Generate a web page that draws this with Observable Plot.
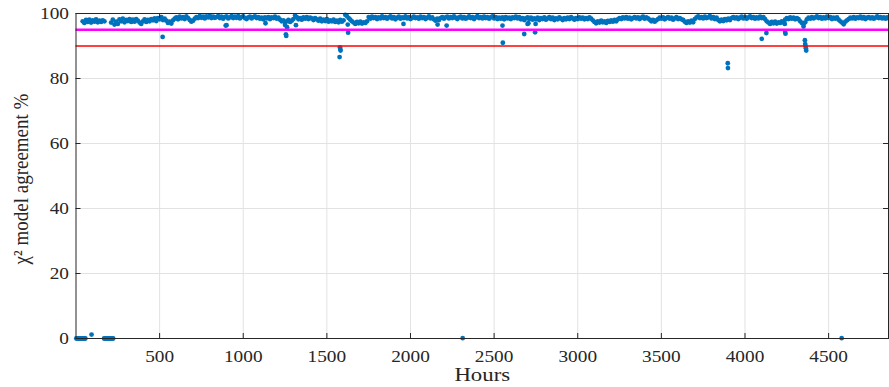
<!DOCTYPE html>
<html>
<head>
<meta charset="utf-8">
<script src="https://cdn.jsdelivr.net/npm/d3@7"></script>
<script src="https://cdn.jsdelivr.net/npm/@observablehq/plot@0.6"></script>
<style>
  html, body { margin: 0; padding: 0; background: #fff; }
  #chart svg { display: block; overflow: visible; }
</style>
</head>
<body>
<div id="chart"></div>
<script>
// Tick positions and threshold levels
const xTicks = [500, 1000, 1500, 2000, 2500, 3000, 3500, 4000, 4500];
const yTicks = [0, 20, 40, 60, 80, 100];
const yGrid = [20, 40, 60, 80];
const thresholdLevels = [95, 90];
const thresholdColors = ["#ff00ff", "#ff0000"];
const thresholdWidths = [2.6, 1.4];

// Regularly sampled agreement (%), one reading every 10 hours from hour 40
const bandStartHour = 40;
const bandStepHours = 10;
const bandAgreement = [
  97.6, 97.1, 98.0, 97.4, 98.1, 97.2, 97.9, 97.5, 98.2, 97.3,
  97.8, 97.4, 97.9, 97.6, null, null, null, 97.2, 98.1, 96.6,
  97.5, 96.8, 98.2, 97.6, 98.4, 97.3, 98.0, 97.7, 98.3, 97.4,
  98.1, 97.5, 98.3, 97.8, 97.2, 96.8, 97.6, 98.2, 97.4, 98.0,
  97.6, 98.3, 97.9, 98.5, 97.7, 98.6, 98.2, 98.9, 98.0, 98.4,
  97.8, 97.1, 97.5, 96.9, 97.9, 98.4, 98.8, 98.2, 99.0, 98.5,
  98.9, 98.3, 99.1, 98.6, 98.0, 97.5, 97.8, 98.4, 98.9, 98.6,
  99.2, 98.7, 99.0, 98.5, 99.1, 98.8, 99.3, 98.6, 99.0, 98.7,
  98.9, 99.2, 98.6, 99.0, 98.4, 98.9, 99.1, 98.5, 98.8, 99.2,
  98.6, 99.0, 98.7, 99.2, 98.5, 98.9, 99.1, 98.6, 98.3, 98.8,
  99.0, 98.5, 98.9, 99.1, 98.6, 98.9, 98.4, 98.7, 98.2, 98.8,
  98.5, 98.9, 98.3, 98.8, 98.6, 99.0, 98.4, 98.7, 98.1, 97.6,
  97.9, 97.2, 97.6, 98.0, 97.4, 97.8, 98.3, 99.4, 98.9, 98.2,
  98.6, 98.1, 98.8, 98.4, 98.9, 98.3, 98.7, 98.5, 98.0, 98.6,
  98.2, 97.8, 98.4, 97.6, 98.1, 97.7, 98.3, 97.5, 97.9, 97.6,
  98.1, 97.4, 97.8, 97.3, 98.0, 97.5, 97.9, 99.6, 99.2, 98.6,
  98.1, 97.6, 97.2, 96.8, 97.4, 97.0, 97.5, 96.9, 97.3, 97.1,
  97.6, 98.9, 98.4, 99.0, 98.6, 98.9, 98.3, 98.8, 98.5, 99.1,
  98.6, 98.9, 98.4, 98.8, 99.1, 98.5, 98.9, 98.2, 98.7, 99.0,
  98.4, 98.8, 98.6, 99.1, 98.5, 98.9, 98.3, 98.7, 99.0, 98.6,
  98.8, 98.4, 99.0, 98.6, 98.9, 98.3, 98.7, 99.1, 98.5, 98.8,
  98.2, 97.8, 98.4, 98.0, 98.6, 98.9, 98.4, 98.8, 99.0, 98.5,
  98.9, 98.6, 99.1, 98.7, 98.3, 98.8, 99.0, 98.5, 98.9, 98.4,
  98.7, 99.1, 98.6, 98.9, 98.3, 98.8, 99.2, 98.6, 98.9, 98.5,
  99.0, 98.6, 98.9, 98.4, 98.8, 99.1, 98.5, 98.9, 98.3, 98.7,
  98.4, 98.8, 98.2, 98.9, 98.5, 98.7, 98.3, 98.8, 98.6, 99.0,
  98.5, 98.9, 98.2, 98.6, 98.0, 98.5, 98.8, 98.3, 98.7, 98.1,
  98.5, 98.2, 98.7, 98.0, 98.6, 98.3, 98.8, 98.1, 98.5, 98.9,
  98.3, 98.7, 98.0, 98.5, 98.2, 98.8, 98.4, 98.0, 98.6, 98.2,
  98.7, 98.3, 98.9, 98.5, 98.1, 98.6, 98.3, 98.8, 98.4, 98.7,
  98.2, 98.6, 98.3, 98.8, 98.4, 97.9, 97.4, 97.0, 97.6, 97.2,
  97.8, 97.3, 97.6, 97.1, 97.7, 97.4, 97.9, 97.5, 98.0, 97.6,
  98.2, 98.6, 98.3, 98.8, 98.5, 98.9, 98.4, 98.7, 98.2, 98.6,
  98.9, 98.5, 98.8, 98.3, 98.7, 99.0, 98.4, 98.8, 98.5, 98.1,
  97.6, 98.0, 97.5, 97.9, 98.3, 98.7, 98.4, 98.8, 98.2, 98.6,
  98.9, 98.4, 98.7, 98.1, 98.5, 98.9, 98.3, 98.6, 98.2, 98.0,
  97.5, 97.1, 97.6, 97.2, 97.8, 97.3, 98.3, 98.8, 99.1, 98.6,
  98.9, 98.5, 99.0, 98.6, 98.8, 99.2, 98.5, 98.9, 98.3, 98.7,
  98.0, 97.6, 98.1, 97.7, 98.3, 97.9, 98.4, 98.0, 98.6, 98.9,
  98.5, 98.8, 98.3, 98.7, 99.0, 98.5, 98.9, 98.4, 98.8, 99.1,
  98.6, 98.9, 98.4, 98.8, 98.5, 99.0, 98.6, 98.9, 98.3, 97.6,
  97.2, 96.8, 97.4, 97.0, 97.5, 96.9, 97.3, 97.1, 97.6, 97.2,
  98.1, 98.6, 98.3, 98.8, 98.4, 98.7, 98.2, 98.6, 98.3, 97.6,
  97.1, 96.8, 97.3, 98.2, 98.7, 98.4, 98.9, 98.5, 98.8, 99.1,
  98.6, 98.9, 98.4, 98.8, 98.5, 99.0, 98.6, 98.9, 98.3, 98.7,
  98.4, 98.8, 98.1, 97.6, 97.2, 96.7, 97.5, 97.9, 98.3, 98.7,
  98.5, 98.9, 98.4, 98.8, 98.6, 99.0, 98.5, 98.9, 98.3, 98.7,
  98.9, 98.5, 98.8, 98.4, 98.7, 99.1, 98.6, 98.9, 98.5, 98.8,
  98.4, 98.8, 98.5
];

// Isolated readings below the main band
const outlierHours = [
  518, 895, 900, 1133, 1250, 1255, 1257, 1262, 1315,
  1576, 1578, 1580, 1582, 1625, 1627, 1958, 2162, 2216,
  2550, 2552, 2680, 2700, 2705, 2745, 2748,
  3897, 3898, 4100, 4128, 4238, 4240, 4242,
  4350, 4358, 4360, 4362, 4364, 4366
];
const outlierAgreement = [
  92.8, 96.3, 96.4, 97.0, 96.5, 93.6, 93.1, 95.8, 96.4,
  86.6, 89.6, 89.1, 88.6, 96.6, 94.1, 96.8, 96.6, 96.3,
  96.3, 91.0, 93.7, 96.8, 97.0, 94.2, 96.8,
  84.7, 83.2, 92.2, 94.0, 96.8, 94.3, 93.8,
  96.0, 91.8, 90.6, 89.9, 89.3, 88.6
];

// Readings at (or near) zero agreement
const lowHours = [2, 8, 14, 20, 26, 32, 38, 44, 50, 56, 93,
  168, 174, 180, 186, 192, 198, 204, 210, 216, 222, 2312, 4578];
const lowAgreement = [0, 0, 0, 0, 0, 0, 0, 0, 0, 0, 1.2,
  0, 0, 0, 0, 0, 0, 0, 0, 0, 0, 0.1, 0.1];

const band = bandAgreement
  .map((v, i) => ({hour: bandStartHour + i * bandStepHours, agreement: v}))
  .filter(d => d.agreement != null);
const outliers = outlierHours.map((h, i) => ({hour: h, agreement: outlierAgreement[i]}));
const lows = lowHours.map((h, i) => ({hour: h, agreement: lowAgreement[i]}));
const points = [...band, ...outliers, ...lows];
const thresholds = thresholdLevels.map((v, i) => ({level: v, color: thresholdColors[i], width: thresholdWidths[i]}));

const ink = "#262626";
const dotColor = "#0072bd";

const chart = Plot.plot({
  width: 889,
  height: 387,
  marginLeft: 75.5,
  marginRight: 1,
  marginTop: 13,
  marginBottom: 49,
  x: {domain: [0, 4858]},
  y: {domain: [0, 100]},
  style: {fontFamily: "'Liberation Serif', 'Times New Roman', serif", color: ink, background: "#fff"},
  marks: [
    // light grid
    Plot.ruleX(xTicks, {stroke: "#e2e2e2", strokeWidth: 1}),
    Plot.ruleY(yGrid, {stroke: "#e2e2e2", strokeWidth: 1}),
    // readings
    Plot.dot(points, {x: "hour", y: "agreement", r: 2.4, fill: dotColor, stroke: null}),
    // threshold lines
    ...thresholds.map(t => Plot.ruleY([t.level], {stroke: t.color, strokeWidth: t.width})),
    // inward ticks on all four sides
    Plot.tickX(xTicks, {stroke: ink, insetTop: 320}),
    Plot.tickX(xTicks, {stroke: ink, insetBottom: 320}),
    Plot.tickY(yTicks, {stroke: ink, insetRight: 807.5}),
    Plot.tickY(yTicks, {stroke: ink, insetLeft: 807.5}),
    Plot.frame({stroke: ink, strokeWidth: 1}),
    // tick labels
    Plot.axisX({ticks: xTicks, tickFormat: d => String(d), tickSize: 0, tickPadding: 11.5, label: null, fontSize: 16.5}),
    Plot.axisY({ticks: yTicks, tickFormat: d => String(d), tickSize: 0, tickPadding: 7, label: null, fontSize: 16.5}),
    // axis titles
    Plot.text(["Hours"], {frameAnchor: "bottom", dy: 36.5, lineAnchor: "middle", fontSize: 19, fill: ink}),
    Plot.text(["χ² model agreement %"], {frameAnchor: "left", textAnchor: "middle", dx: -55.5, dy: 3, rotate: -90, lineAnchor: "middle", fontSize: 19, fill: ink})
  ]
});

document.getElementById("chart").appendChild(chart);

// Widen the serif glyphs horizontally, keeping each label's anchor point fixed
function widen(el, sx, sy) {
  const tr = el.getAttribute("transform") || "";
  el.setAttribute("transform", `${tr} scale(${sx},${sy})`);
}
const svg = chart.tagName === "svg" ? chart : chart.querySelector("svg");
svg.querySelectorAll('g[aria-label="x-axis tick label"] text, g[aria-label="y-axis tick label"] text')
  .forEach(t => widen(t, 1.17, 1));
svg.querySelectorAll("text").forEach(t => {
  if (t.textContent === "Hours") widen(t, 1.2, 1);
  if (t.textContent.startsWith("χ")) widen(t, 1, 1.15);
});
</script>
</body>
</html>
